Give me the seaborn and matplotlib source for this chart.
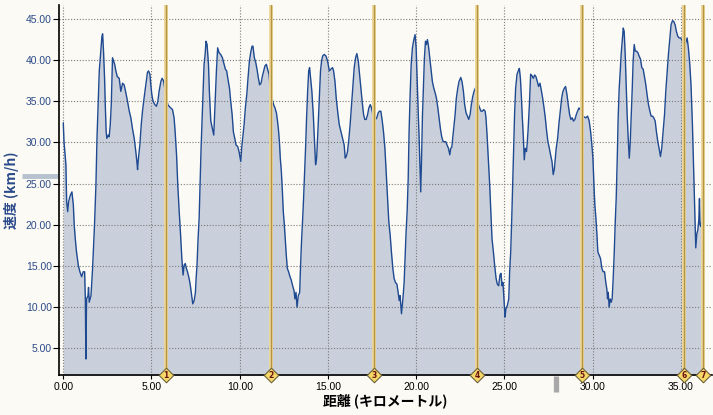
import matplotlib
matplotlib.use("Agg")
import matplotlib.pyplot as plt
import matplotlib.transforms as mtransforms
import seaborn as sns
import pandas as pd

distance_km = [
    0.00, 0.04, 0.15, 0.19, 0.25, 0.30, 0.40, 0.49, 0.57, 0.62, 0.68, 0.75, 0.85, 0.94, 1.04, 1.13, 1.21, 1.25, 1.28, 1.32,
    1.40, 1.43, 1.47, 1.57, 1.66, 1.72, 1.77, 1.85, 1.91, 1.98, 2.04, 2.11, 2.19, 2.23, 2.28, 2.34, 2.38, 2.43, 2.47, 2.55,
    2.60, 2.66, 2.72, 2.75, 2.79, 2.85, 2.91, 2.98, 3.06, 3.17, 3.26, 3.36, 3.45, 3.55, 3.64, 3.74, 3.83, 3.92, 4.02, 4.11,
    4.17, 4.21, 4.26, 4.34, 4.42, 4.49, 4.58, 4.68, 4.77, 4.83, 4.91, 4.96, 5.02, 5.09, 5.19, 5.28, 5.36, 5.43, 5.53, 5.60,
    5.68, 5.77, 5.85, 5.92, 6.00, 6.09, 6.19, 6.28, 6.34, 6.42, 6.49, 6.57, 6.64, 6.72, 6.79, 6.85, 6.91, 6.98, 7.04, 7.13,
    7.19, 7.28, 7.34, 7.42, 7.49, 7.53, 7.58, 7.64, 7.70, 7.75, 7.81, 7.87, 7.92, 7.98, 8.04, 8.09, 8.15, 8.23, 8.28, 8.36,
    8.45, 8.53, 8.60, 8.68, 8.75, 8.83, 8.92, 9.02, 9.09, 9.19, 9.26, 9.34, 9.42, 9.49, 9.57, 9.64, 9.72, 9.79, 9.89, 9.96,
    10.06, 10.11, 10.17, 10.25, 10.32, 10.40, 10.47, 10.55, 10.62, 10.70, 10.75, 10.83, 10.91, 10.98, 11.06, 11.13, 11.21, 11.28, 11.36, 11.43,
    11.51, 11.58, 11.66, 11.72, 11.77, 11.85, 11.92, 12.00, 12.08, 12.13, 12.19, 12.25, 12.30, 12.36, 12.42, 12.47, 12.53, 12.58, 12.64, 12.70,
    12.77, 12.85, 12.92, 13.00, 13.08, 13.13, 13.19, 13.25, 13.32, 13.40, 13.45, 13.51, 13.57, 13.62, 13.68, 13.74, 13.79, 13.85, 13.91, 13.96,
    14.02, 14.09, 14.17, 14.25, 14.30, 14.36, 14.43, 14.51, 14.58, 14.64, 14.70, 14.79, 14.89, 14.98, 15.08, 15.17, 15.26, 15.32, 15.40, 15.47,
    15.55, 15.64, 15.74, 15.83, 15.92, 15.98, 16.04, 16.11, 16.19, 16.26, 16.34, 16.42, 16.49, 16.57, 16.64, 16.72, 16.79, 16.87, 16.94, 17.02,
    17.09, 17.17, 17.25, 17.32, 17.40, 17.47, 17.55, 17.62, 17.70, 17.77, 17.85, 17.92, 18.00, 18.08, 18.15, 18.23, 18.30, 18.38, 18.45, 18.53,
    18.60, 18.68, 18.75, 18.83, 18.91, 18.98, 19.04, 19.09, 19.17, 19.25, 19.32, 19.38, 19.43, 19.49, 19.55, 19.60, 19.66, 19.72, 19.79, 19.87,
    19.94, 20.00, 20.06, 20.11, 20.17, 20.23, 20.26, 20.30, 20.36, 20.42, 20.47, 20.53, 20.58, 20.64, 20.70, 20.77, 20.85, 20.92, 21.00, 21.08,
    21.15, 21.23, 21.30, 21.38, 21.45, 21.53, 21.60, 21.68, 21.75, 21.83, 21.91, 21.96, 22.02, 22.11, 22.21, 22.28, 22.36, 22.43, 22.53, 22.60,
    22.68, 22.75, 22.83, 22.91, 22.98, 23.06, 23.13, 23.21, 23.28, 23.36, 23.42, 23.47, 23.53, 23.60, 23.68, 23.75, 23.83, 23.91, 23.96, 24.02,
    24.09, 24.17, 24.25, 24.30, 24.38, 24.45, 24.53, 24.60, 24.68, 24.75, 24.81, 24.87, 24.92, 24.98, 25.04, 25.09, 25.17, 25.25, 25.30, 25.36,
    25.42, 25.47, 25.53, 25.58, 25.64, 25.72, 25.79, 25.85, 25.91, 25.96, 26.02, 26.08, 26.13, 26.19, 26.26, 26.34, 26.42, 26.49, 26.57, 26.64,
    26.72, 26.79, 26.87, 26.94, 27.02, 27.09, 27.17, 27.25, 27.32, 27.40, 27.47, 27.55, 27.62, 27.70, 27.77, 27.83, 27.89, 27.94, 28.02, 28.09,
    28.17, 28.25, 28.32, 28.40, 28.47, 28.55, 28.62, 28.70, 28.77, 28.85, 28.92, 29.00, 29.08, 29.15, 29.23, 29.30, 29.38, 29.43, 29.53, 29.62,
    29.72, 29.81, 29.89, 29.96, 30.02, 30.08, 30.13, 30.19, 30.25, 30.30, 30.38, 30.45, 30.53, 30.60, 30.68, 30.75, 30.81, 30.85, 30.89, 30.94,
    31.00, 31.06, 31.11, 31.17, 31.23, 31.28, 31.34, 31.40, 31.45, 31.51, 31.57, 31.62, 31.68, 31.74, 31.79, 31.85, 31.91, 31.96, 32.02, 32.08,
    32.13, 32.19, 32.25, 32.30, 32.36, 32.42, 32.49, 32.57, 32.64, 32.72, 32.79, 32.87, 32.94, 33.02, 33.09, 33.17, 33.25, 33.32, 33.40, 33.47,
    33.55, 33.62, 33.70, 33.77, 33.85, 33.92, 34.00, 34.08, 34.15, 34.23, 34.30, 34.38, 34.45, 34.53, 34.60, 34.68, 34.75, 34.83, 34.91, 34.98,
    35.06, 35.13, 35.21, 35.28, 35.36, 35.43, 35.51, 35.58, 35.66, 35.72, 35.77, 35.81, 35.85, 35.91, 35.96, 36.02, 36.06, 36.09, 36.15, 36.21,
    36.26,
]

speed_kmh = [
    32.4, 30.1, 27.3, 22.8, 21.6, 22.8, 23.6, 24.0, 22.4, 20.0, 18.3, 16.7, 15.1, 14.3, 13.7, 14.3, 14.3, 11.0, 3.7, 11.0,
    11.4, 12.4, 10.6, 11.4, 14.7, 17.5, 20.0, 24.8, 30.5, 35.0, 38.7, 40.7, 42.9, 43.2, 41.1, 37.8, 34.6, 31.3, 30.5, 30.9,
    30.7, 32.1, 34.6, 37.0, 40.3, 39.9, 39.5, 38.7, 38.0, 37.8, 36.2, 37.2, 37.0, 36.0, 35.0, 33.8, 33.0, 31.7, 30.5, 28.9,
    27.7, 26.7, 28.1, 29.7, 32.2, 33.8, 35.4, 37.0, 38.5, 38.7, 38.3, 37.0, 35.8, 35.0, 34.6, 34.4, 35.0, 36.2, 37.4, 37.8,
    37.5, 36.4, 35.8, 34.6, 34.4, 34.2, 34.0, 33.0, 31.3, 28.5, 24.8, 21.6, 19.1, 15.9, 13.9, 15.1, 15.3, 14.7, 14.3, 13.5,
    12.8, 11.4, 10.4, 10.8, 11.8, 13.5, 15.1, 18.3, 20.8, 24.8, 29.3, 33.0, 36.2, 39.5, 40.7, 42.3, 41.9, 39.5, 36.2, 32.6,
    31.7, 30.9, 34.6, 38.7, 41.5, 40.9, 40.7, 40.3, 39.7, 38.9, 38.7, 37.6, 36.6, 35.0, 33.4, 31.3, 30.5, 29.7, 29.5, 28.9,
    27.7, 29.3, 30.5, 32.2, 34.2, 35.8, 37.8, 39.9, 40.9, 41.7, 41.7, 40.3, 39.7, 38.9, 37.8, 37.0, 37.2, 38.0, 38.7, 39.3,
    39.5, 38.9, 38.3, 37.0, 35.8, 35.2, 34.6, 34.2, 33.6, 32.8, 31.7, 30.1, 28.1, 26.5, 24.0, 21.6, 20.0, 18.3, 16.3, 14.7,
    14.3, 13.7, 13.3, 12.6, 12.0, 11.0, 11.8, 10.0, 11.4, 11.8, 15.1, 18.3, 20.8, 23.2, 26.5, 29.7, 33.0, 36.2, 38.7, 39.1,
    37.8, 36.2, 33.4, 29.7, 27.3, 28.1, 31.3, 35.4, 38.7, 39.9, 40.5, 40.7, 40.5, 39.9, 38.7, 38.9, 39.1, 38.7, 37.4, 35.4,
    33.8, 32.2, 31.3, 30.5, 29.7, 28.1, 28.3, 28.9, 30.5, 32.2, 34.6, 37.0, 39.1, 40.3, 40.8, 39.9, 38.3, 36.6, 35.0, 33.4,
    32.8, 32.8, 33.4, 34.2, 34.6, 34.2, 33.4, 33.0, 32.8, 33.0, 33.6, 33.8, 33.8, 32.6, 31.3, 29.3, 26.5, 23.2, 20.4, 18.7,
    16.7, 14.7, 13.5, 13.0, 12.8, 11.8, 10.8, 11.4, 9.2, 11.0, 13.0, 16.3, 19.1, 21.6, 25.6, 31.3, 35.8, 39.5, 41.5, 42.5,
    43.1, 41.5, 37.4, 34.2, 30.5, 26.0, 24.0, 27.3, 33.4, 37.0, 40.3, 42.3, 41.9, 42.5, 41.7, 40.3, 38.7, 37.4, 36.6, 36.0,
    35.4, 34.2, 33.0, 31.6, 30.7, 30.1, 30.1, 30.1, 29.7, 29.3, 28.5, 29.3, 29.4, 31.3, 33.4, 35.4, 36.6, 37.4, 37.9, 37.4,
    36.2, 34.6, 33.6, 33.2, 32.8, 33.4, 34.6, 35.6, 36.2, 36.6, 36.8, 35.8, 34.6, 34.2, 33.8, 33.8, 34.0, 33.8, 33.0, 30.9,
    28.1, 24.8, 20.8, 18.3, 16.7, 15.1, 13.5, 12.8, 12.6, 13.9, 14.1, 12.6, 13.0, 11.0, 8.8, 9.8, 10.2, 11.0, 14.3, 16.7,
    20.8, 24.8, 29.7, 33.4, 36.6, 38.3, 38.7, 39.0, 37.8, 35.8, 33.0, 30.5, 27.9, 29.3, 28.9, 31.3, 34.6, 38.3, 38.1, 37.8,
    38.2, 38.0, 37.4, 36.8, 37.2, 36.4, 35.4, 34.2, 33.0, 31.3, 30.1, 29.3, 28.5, 27.7, 26.1, 26.7, 28.1, 29.3, 30.5, 32.2,
    33.8, 35.4, 36.2, 36.6, 36.8, 35.8, 34.6, 33.4, 32.8, 33.0, 32.6, 32.8, 33.4, 33.8, 34.2, 34.0, 33.8, 33.2, 33.1, 33.0,
    33.2, 32.6, 31.3, 29.7, 28.1, 24.8, 22.4, 20.8, 18.7, 16.7, 16.3, 15.9, 14.7, 14.3, 14.3, 13.0, 12.2, 11.0, 11.8, 10.0,
    11.0, 10.6, 11.0, 13.5, 16.7, 20.0, 23.2, 28.1, 33.0, 36.6, 38.7, 40.7, 42.3, 43.9, 43.5, 40.7, 36.6, 33.4, 30.5, 28.1,
    29.7, 33.0, 36.6, 39.9, 41.9, 41.1, 41.1, 40.9, 40.5, 40.1, 39.1, 38.9, 38.0, 37.0, 35.8, 34.6, 33.8, 33.2, 33.2, 33.0,
    32.6, 31.3, 30.1, 29.3, 28.3, 29.3, 31.3, 33.4, 36.2, 38.7, 40.7, 42.7, 44.3, 44.8, 44.7, 44.3, 43.5, 42.9, 42.7, 42.7,
    42.5, 42.1, 41.7, 42.1, 42.7, 41.5, 39.5, 37.0, 32.2, 27.3, 23.6, 20.4, 17.2, 18.9, 19.3, 20.5, 23.2, 20.0, 19.8, 20.8,
    21.2,
]

lap_km = [5.82, 11.76, 17.63, 23.45, 29.39, 35.20, 36.26]
lap_labels = ["1", "2", "3", "4", "5", "6", "7"]
x_ticks = [0, 5, 10, 15, 20, 25, 30, 35]
y_ticks = [5, 10, 15, 20, 25, 30, 35, 40, 45]
avg_speed = 25.9
avg_marker_km = 27.9

BG = "#FCFAF4"
sns.set_theme(style="white")
plt.rcParams["font.family"] = ["Noto Sans CJK JP", "DejaVu Sans"]

df = pd.DataFrame({"distance": distance_km, "speed": speed_kmh})

fig = plt.figure(figsize=(7.13, 4.15), dpi=100, facecolor=BG)
ax = fig.add_axes([58.7 / 713, 1 - 375 / 415, (712 - 58.7) / 713, 370 / 415])
ax.set_facecolor(BG)

ymin, ymax = 1.76, 46.7
ax.set_xlim(-0.26, 36.77)
ax.set_ylim(ymin, ymax)

ax.fill_between(df["distance"], df["speed"], ymin - 5, color="#C9D0DB", lw=0, zorder=1)
sns.lineplot(data=df, x="distance", y="speed", ax=ax, color="#1F4A92", lw=1.0,
             sort=False, estimator=None, zorder=3)

ax.set_xticks(x_ticks)
ax.set_yticks(y_ticks)
ax.set_xticklabels([f"{v:.2f}" for v in x_ticks], family="Liberation Sans", fontsize=7.5, color="#000000")
ax.set_yticklabels([f"{v:.2f}" for v in y_ticks], family="Liberation Sans", fontsize=7.5, color="#2A4A8A")
ax.grid(True, color="#7A7A7A", linestyle=(0, (1, 1.6)), lw=0.8, zorder=2)
ax.set_axisbelow(False)
ax.tick_params(axis="y", length=4, width=0.8, color="#000000", pad=1, direction="out", left=True)
ax.tick_params(axis="x", length=3, width=0.8, color="#000000", pad=2, direction="out", bottom=True)

for s in ["top", "right"]:
    ax.spines[s].set_visible(False)
for s in ["left", "bottom"]:
    ax.spines[s].set_color("#000000")
    ax.spines[s].set_linewidth(1.2)
    ax.spines[s].set_zorder(6)

for x in lap_km:
    ax.axvline(x, color="#EED79A", lw=2.8, zorder=4)
    ax.axvline(x, color="#B39440", lw=1.0, zorder=4)

ax.scatter(lap_km, [ymin] * len(lap_km), marker="D", s=55, facecolor="#F6D868",
           edgecolor="#6E6238", linewidth=0.8, zorder=7, clip_on=False)
for x, lab in zip(lap_km, lap_labels):
    ax.text(x, ymin, lab, fontsize=5.5, color="#6A1010", ha="center", va="center",
            family="DejaVu Sans", fontweight="bold", zorder=8, clip_on=False)

# average markers outside the axes
trans_y = mtransforms.blended_transform_factory(ax.transAxes, ax.transData)
ax.plot([-0.056, -0.001], [avg_speed, avg_speed], transform=trans_y, color="#B6C2CE",
        lw=3.5, solid_capstyle="butt", clip_on=False, zorder=5)
trans_x = mtransforms.blended_transform_factory(ax.transData, ax.transAxes)
ax.plot([avg_marker_km, avg_marker_km], [-0.003, -0.047], transform=trans_x, color="#A8A8A8",
        lw=3.8, solid_capstyle="butt", clip_on=False, zorder=5)

ax.set_xlabel("距離 (キロメートル)", fontsize=10, fontweight="bold", color="#000000", labelpad=1)
ax.set_ylabel("速度 (km/h)", fontsize=10, fontweight="bold", color="#2A4A8A", labelpad=5)

fig.savefig("out.png", dpi=100, facecolor=BG)
